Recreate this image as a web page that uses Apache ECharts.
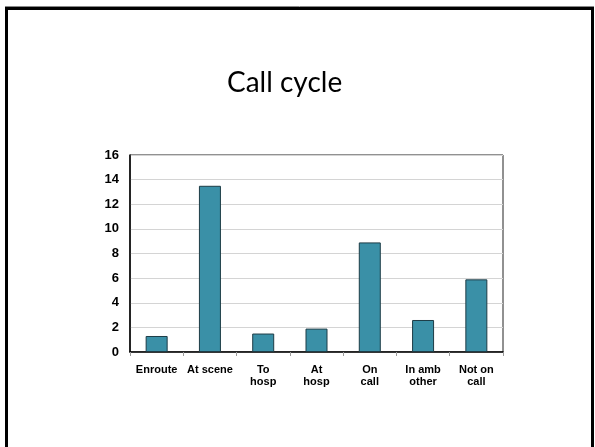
<!DOCTYPE html>
<html>
<head>
<meta charset="utf-8">
<script src="https://cdn.jsdelivr.net/npm/echarts@6/dist/echarts.min.js"></script>
<style>
  html, body { margin: 0; padding: 0; background: #fff; }
  #chart { width: 595px; height: 447px; }
</style>
</head>
<body>
<div id="chart"></div>
<script>
// Call cycle stages and their values
const categories = ['Enroute', 'At scene', 'To\nhosp', 'At\nhosp', 'On\ncall', 'In amb\nother', 'Not on\ncall'];
const values = [1.3, 13.5, 1.5, 1.9, 8.9, 2.6, 5.9];
const yTicks = [0, 2, 4, 6, 8, 10, 12, 14, 16];

const chart = echarts.init(document.getElementById('chart'), null, { renderer: 'canvas' });

chart.setOption({
  animation: false,
  backgroundColor: '#fff',
  title: {
    text: 'Call cycle',
    left: 227,
    top: 69,
    padding: 0,
    textStyle: { fontFamily: 'Lato', fontWeight: 'normal', fontSize: 28, color: '#000' }
  },
  graphic: [
    // slide frame
    { type: 'line', shape: { x1: 5, y1: 6.5, x2: 594, y2: 6.5 }, style: { stroke: '#888', lineWidth: 1 }, silent: true },
    { type: 'rect', shape: { x: 6.5, y: 8.5, width: 586, height: 480 }, style: { fill: 'none', stroke: '#000', lineWidth: 3 }, silent: true }
  ],
  grid: {
    left: 130, top: 155, right: 92, bottom: 95,
    show: true, borderColor: '#222', borderWidth: 1, backgroundColor: 'transparent'
  },
  xAxis: {
    type: 'category',
    data: categories,
    axisLine: { lineStyle: { color: '#000', width: 1.5 } },
    axisTick: { show: true, length: 4, lineStyle: { color: '#999' } },
    axisLabel: {
      color: '#000', fontFamily: 'Liberation Sans', fontWeight: 'bold', fontSize: 11,
      lineHeight: 12, margin: 12, interval: 0
    }
  },
  yAxis: {
    type: 'value',
    min: yTicks[0],
    max: yTicks[yTicks.length - 1],
    interval: 2,
    axisLine: { show: true, lineStyle: { color: '#000', width: 1.5 } },
    axisTick: { show: false },
    splitLine: { lineStyle: { color: '#d4d4d4', width: 1 } },
    axisLabel: {
      color: '#000', fontFamily: 'Liberation Sans', fontWeight: 'bold', fontSize: 13, margin: 11
    }
  },
  series: [{
    type: 'bar',
    data: values,
    barWidth: 22,
    itemStyle: { color: '#3a90a7', borderColor: '#1d3c46', borderWidth: 1 }
  }]
});
</script>
</body>
</html>
